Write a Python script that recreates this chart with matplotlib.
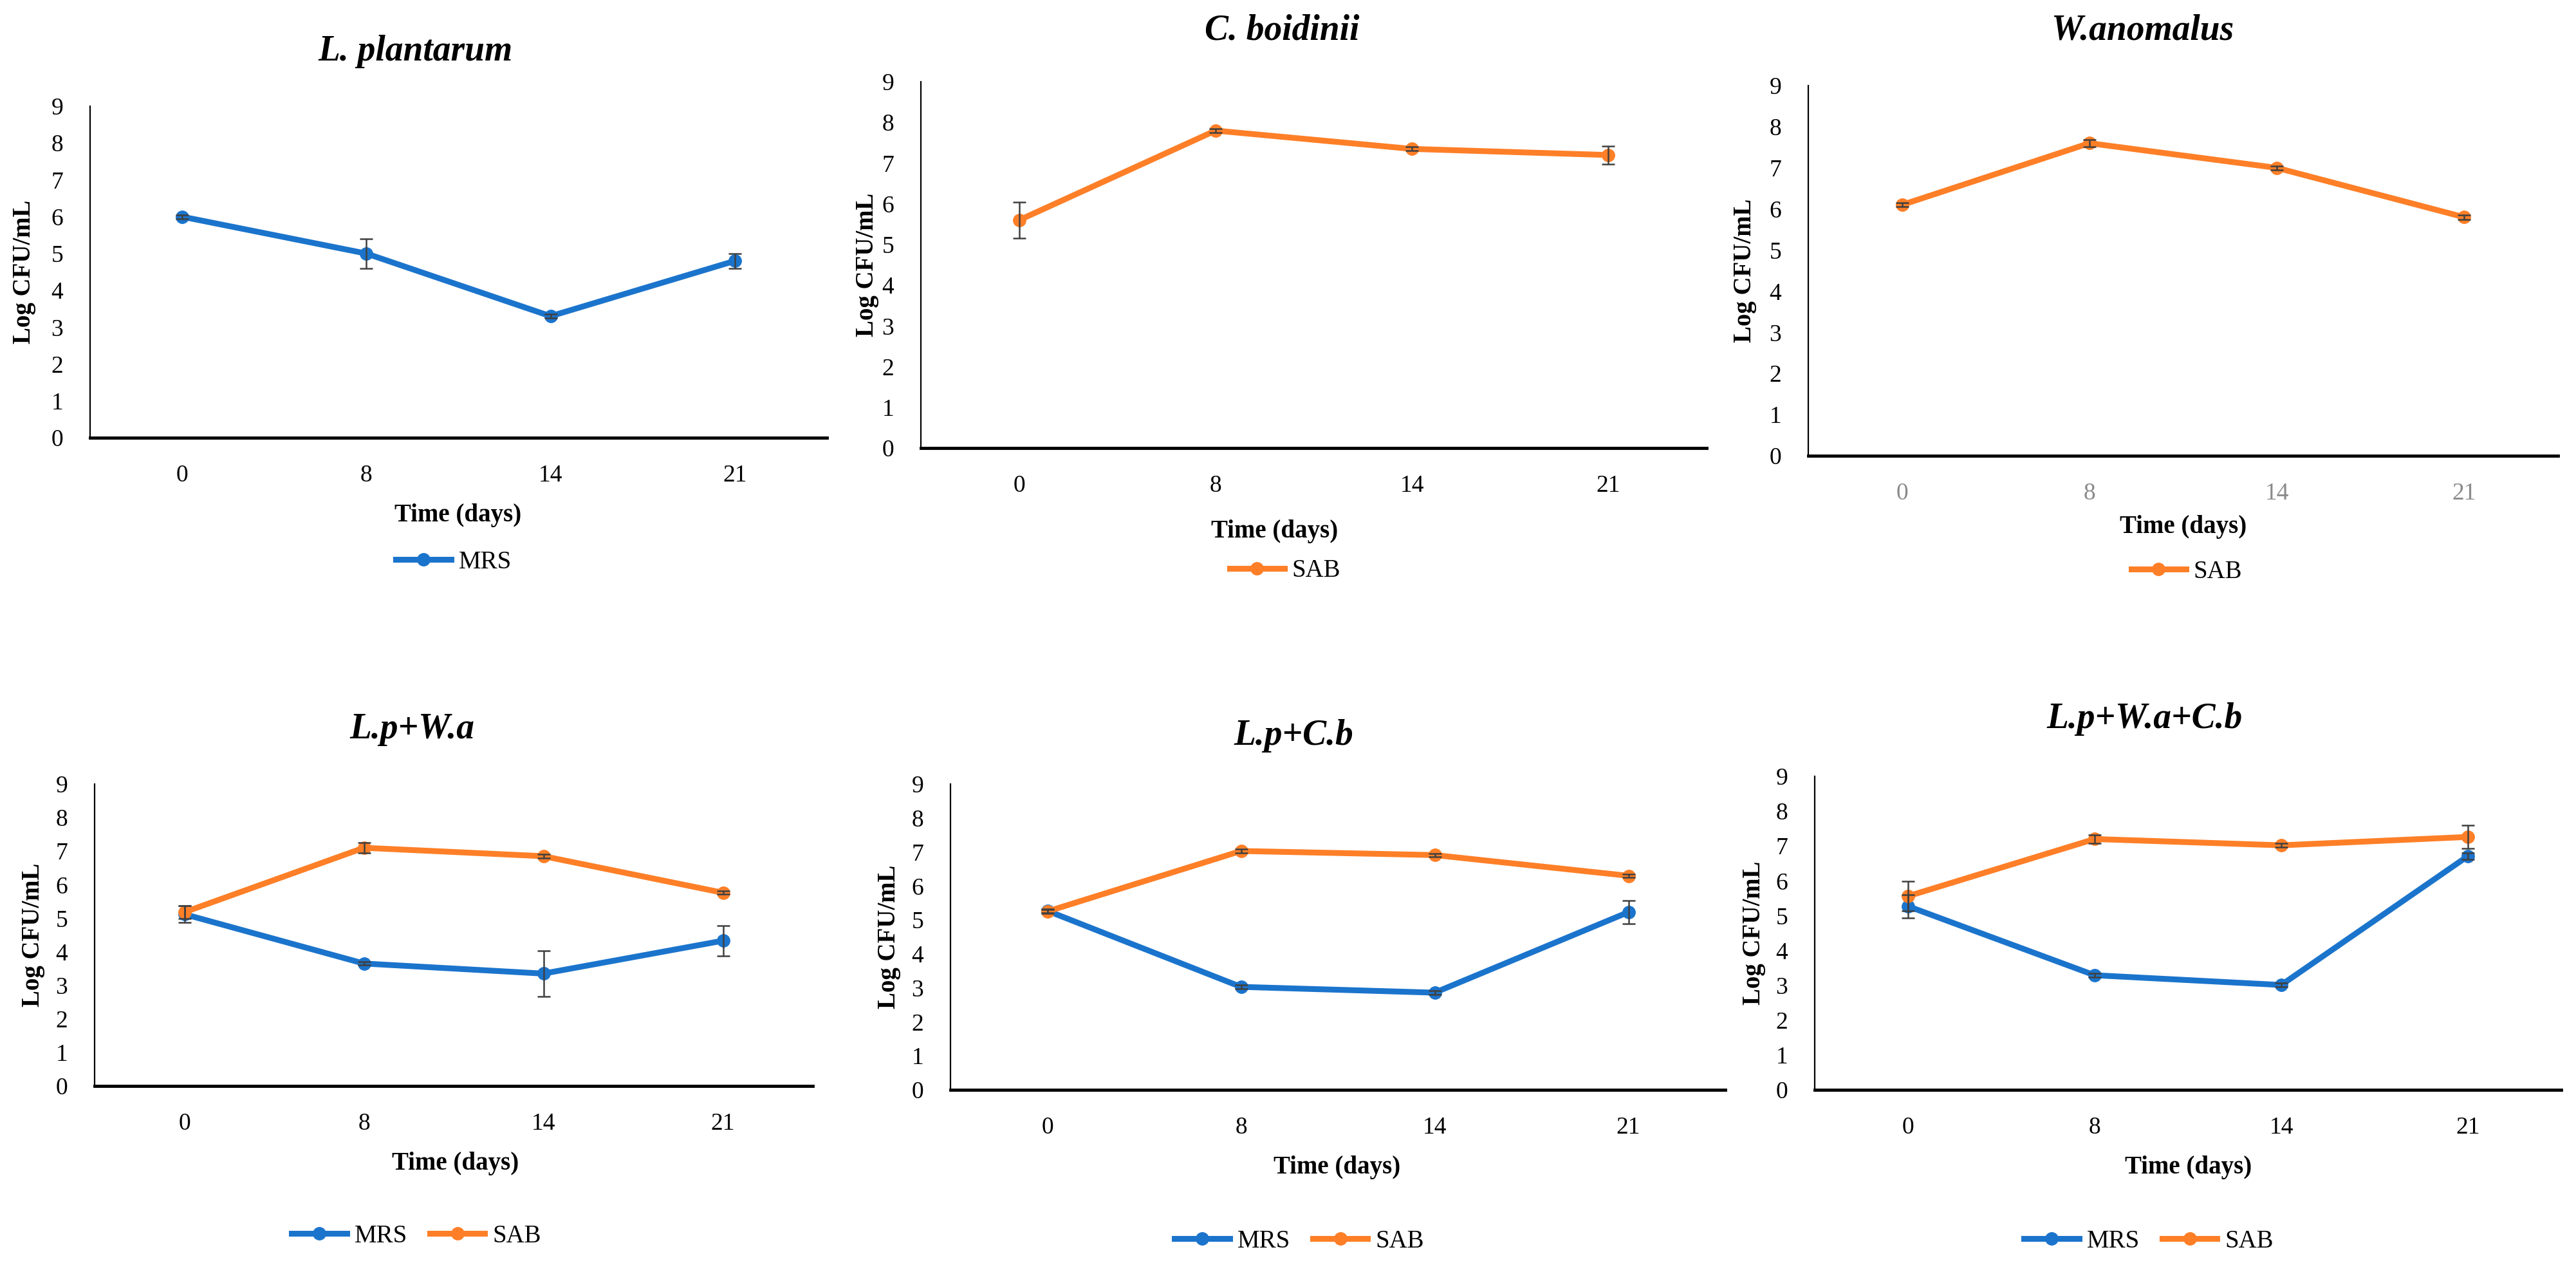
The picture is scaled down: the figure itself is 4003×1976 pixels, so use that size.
import matplotlib
matplotlib.use("Agg")
import matplotlib.pyplot as plt
from matplotlib.lines import Line2D
import numpy as np

W, H = 4003, 1976

# ------------------------------ datos ------------------------------
days = ['0', '8', '14', '21']

lp_mrs = [6.0, 5.0, 3.3, 4.8]
lp_mrs_err = [0.05, 0.4, 0.05, 0.2]

cb_sab = [5.6, 7.8, 7.35, 7.2]
cb_sab_err = [0.45, 0.05, 0.05, 0.22]

wa_sab = [6.1, 7.6, 7.0, 5.8]
wa_sab_err = [0.05, 0.08, 0.05, 0.05]

lpwa_mrs = [5.12, 3.65, 3.35, 4.33]
lpwa_mrs_err = [0.25, 0.05, 0.68, 0.45]
lpwa_sab = [5.18, 7.1, 6.85, 5.76]
lpwa_sab_err = [0.2, 0.15, 0.05, 0.05]

lpcb_mrs = [5.27, 3.03, 2.86, 5.23]
lpcb_mrs_err = [0.05, 0.05, 0.05, 0.35]
lpcb_sab = [5.25, 7.03, 6.91, 6.3]
lpcb_sab_err = [0.05, 0.05, 0.05, 0.05]

lpwacb_mrs = [5.27, 3.29, 3.01, 6.71]
lpwacb_mrs_err = [0.33, 0.05, 0.05, 0.1]
lpwacb_sab = [5.56, 7.2, 7.02, 7.26]
lpwacb_sab_err = [0.43, 0.12, 0.05, 0.33]

titles = ['L. plantarum', 'C. boidinii', 'W.anomalus',
          'L.p+W.a', 'L.p+C.b', 'L.p+W.a+C.b']

BLUE = '#1b74cc'
ORANGE = '#fe7f27'
ERRC = '#404040'
SERIF = ['Liberation Serif', 'DejaVu Serif']

# panel layout in pixels: (left, right, top, bottom)
boxes = [(140, 1285, 165, 680), (1431, 2652, 127, 696), (2810, 3975, 133, 708),
         (147, 1263, 1218, 1687), (1477, 2681, 1218, 1693), (2820, 3980, 1206, 1693)]
title_pos = [(645, 80), (1992, 47), (3329, 47), (640, 1133), (2010, 1143), (3333, 1117)]
ylab_x = [38, 1347, 2712, 51, 1381, 2725]
xlab_pos = [(712, 800), (1981, 825), (3393, 818), (708, 1807), (2078, 1813), (3401, 1813)]
leg_pos = [(705, 873), (1997, 887), (3398, 888), (647, 1920), (2019, 1928), (3339, 1928)]

series = [
    [('MRS', lp_mrs, lp_mrs_err, BLUE)],
    [('SAB', cb_sab, cb_sab_err, ORANGE)],
    [('SAB', wa_sab, wa_sab_err, ORANGE)],
    [('MRS', lpwa_mrs, lpwa_mrs_err, BLUE), ('SAB', lpwa_sab, lpwa_sab_err, ORANGE)],
    [('MRS', lpcb_mrs, lpcb_mrs_err, BLUE), ('SAB', lpcb_sab, lpcb_sab_err, ORANGE)],
    [('MRS', lpwacb_mrs, lpwacb_mrs_err, BLUE), ('SAB', lpwacb_sab, lpwacb_sab_err, ORANGE)],
]


def fx(px):
    return px / W


def fy(py):
    return 1 - py / H


fig = plt.figure(figsize=(W / 100, H / 100), dpi=100)

for i in range(6):
    l, r, t, b = boxes[i]
    ax = fig.add_axes([fx(l), fy(b), (r - l) / W, (b - t) / H])
    x = np.arange(len(days))
    handles = []
    for name, vals, err, col in series[i]:
        ax.errorbar(x, vals, yerr=err, fmt='none', ecolor=ERRC, elinewidth=1.8,
                    capsize=7, capthick=1.8, zorder=3)
        ax.plot(x, vals, color=col, lw=6.5, marker='o', ms=14, zorder=2)
        handles.append(Line2D([], [], color=col, lw=6.5, marker='o', ms=14))
    ax.set_xlim(-0.5, 3.5)
    ax.set_ylim(0, 9)
    ax.set_yticks(range(10))
    ax.set_xticks(x)
    ax.set_xticklabels(days)
    for s in ['top', 'right']:
        ax.spines[s].set_visible(False)
    ax.spines['left'].set_linewidth(1.6)
    ax.spines['bottom'].set_linewidth(3.5)
    tick_col = '#8a8a8a' if i == 2 else 'black'
    ax.tick_params(axis='x', length=0, pad=30, labelsize=27, labelcolor=tick_col)
    ax.tick_params(axis='y', length=0, pad=30, labelsize=27)
    for lab in ax.get_xticklabels() + ax.get_yticklabels():
        lab.set_family(SERIF)

    fig.text(fx(title_pos[i][0]), fy(title_pos[i][1]), titles[i], ha='center', va='center',
             fontsize=40, style='italic', weight='bold', family=SERIF)
    fig.text(fx(ylab_x[i]), fy((t + b) / 2), 'Log CFU/mL', ha='center', va='center',
             rotation=90, fontsize=28, weight='bold', family=SERIF)
    fig.text(fx(xlab_pos[i][0]), fy(xlab_pos[i][1]), 'Time (days)', ha='center', va='center',
             fontsize=28, weight='bold', family=SERIF)
    fig.legend(handles, [s[0] for s in series[i]], loc='center',
               bbox_to_anchor=(fx(leg_pos[i][0]), fy(leg_pos[i][1])), ncol=2, frameon=False,
               prop={'family': SERIF, 'size': 28}, handlelength=2.2, handletextpad=0.3,
               columnspacing=0.9)

fig.savefig('out.png', dpi=100, facecolor='white')
